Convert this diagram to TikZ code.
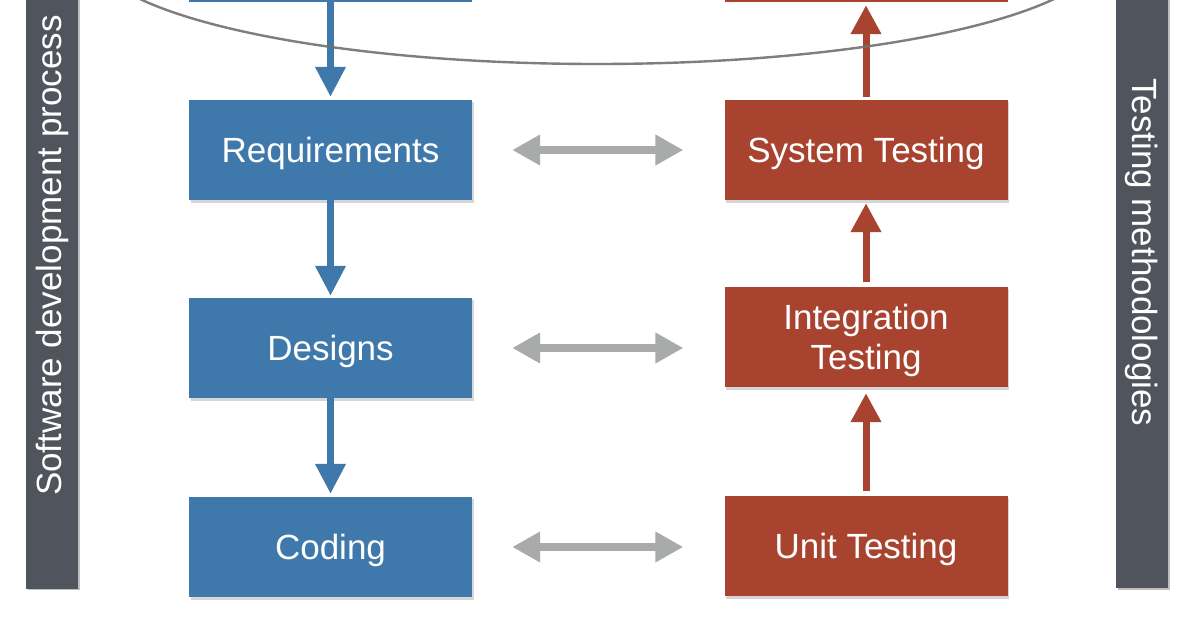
\documentclass[tikz,border=0pt]{standalone}
\usepackage{fontspec}
\setmainfont{Liberation Sans}
\usetikzlibrary{arrows.meta}
\definecolor{boxblue}{HTML}{3F78AB}
\definecolor{boxred}{HTML}{A8432F}
\definecolor{bardark}{HTML}{50545D}
\definecolor{arrgray}{HTML}{A9AAAA}
\definecolor{ellgray}{HTML}{707070}
\tikzset{
  stage/.style={rectangle, inner sep=0pt, minimum width=283pt, minimum height=100pt,
    text=white, align=center, font=\fontsize{35}{40}\selectfont},
  oneline/.style={text height=25pt, text depth=1pt},
  devbox/.style={stage, fill=boxblue},
  testbox/.style={stage, fill=boxred},
  sidebar/.style={rectangle, fill=bardark, inner sep=0pt},
  sidetext/.style={text=white, inner sep=0pt, font=\fontsize{35}{40}\selectfont},
  bluearrow/.style={draw=boxblue, line width=7pt, -{Triangle[width=29pt,length=30pt]}},
  redarrow/.style={draw=boxred, line width=7pt, -{Triangle[width=29pt,length=29pt]}},
  linkarrow/.style={draw=arrgray, line width=8pt, {Triangle[width=29pt,length=28pt]}-{Triangle[width=29pt,length=28pt]}},
  shadowbox/.style={fill=black!35, opacity=0.45},
}
\begin{document}
\begin{tikzpicture}[x=1pt, y=-1pt]
\useasboundingbox (0,0) rectangle (1194,618);
\clip (0,0) rectangle (1194,618);
\fill[white] (0,0) rectangle (1194,618);

% side bars
\fill[black!25] (27.5,-10) rectangle (79.5,590);
\node[sidebar, minimum width=52pt, minimum height=600pt] (leftbar) at (52,289) {};
\fill[black!25] (1117.5,-10) rectangle (1169.5,590);
\node[sidebar, minimum width=52pt, minimum height=600pt] (rightbar) at (1142,288) {};
\node[sidetext, rotate=90, anchor=west] (lefttext) at (52,496) {Software development process};
\node[sidetext, rotate=-90, anchor=west] (righttext) at (1142,78) {Testing methodologies};

% shadows
\foreach \cx/\cy in {330.5/150, 330.5/348, 330.5/547, 866/150, 866/337, 866/546}{
  \fill[shadowbox] (\cx-140,\cy-48) rectangle (\cx+143,\cy+52.5);
}

% boxes
\node[devbox] (top1) at (330.5,-48) {};
\node[testbox] (top2) at (866,-48) {};
\node[devbox, oneline] (req) at (330.5,150) {Requirements};
\node[devbox, oneline] (des) at (330.5,348) {Designs};
\node[devbox, oneline] (cod) at (330.5,547) {Coding};
\node[testbox, oneline] (sys) at (866,150) {System Testing};
\node[testbox] (int) at (866,337) {\raisebox{0pt}[25pt][0pt]{Integration}\\\raisebox{0pt}[25pt][1pt]{Testing}};
\node[testbox, oneline] (unit) at (866,546) {Unit Testing};

% development arrows
\draw[bluearrow, shorten >=3pt] (top1.south) -- (req.north);
\draw[bluearrow, shorten >=2pt] (req.south) -- (des.north);
\draw[bluearrow, shorten >=3pt] (des.south) -- (cod.north);

% testing arrows
\draw[redarrow, shorten <=5pt, shorten >=6pt] (unit.north) -- (int.south);
\draw[redarrow, shorten <=5pt, shorten >=3pt] (int.north) -- (sys.south);
\draw[redarrow, shorten <=3pt, shorten >=3pt] (sys.north) -- (top2.south);

% links
\draw[linkarrow] ([xshift=40pt]req.east) -- ([xshift=-41pt]sys.west);
\draw[linkarrow] ([xshift=40pt]des.east) -- ([xshift=-41pt]int.west |- des.east);
\draw[linkarrow] ([xshift=40pt]cod.east) -- ([xshift=-41pt]unit.west |- cod.east);

% ellipse
\draw[ellgray, line width=2.4pt, opacity=0.9] (597,-50) ellipse [x radius=506pt, y radius=114pt];
\end{tikzpicture}
\end{document}
